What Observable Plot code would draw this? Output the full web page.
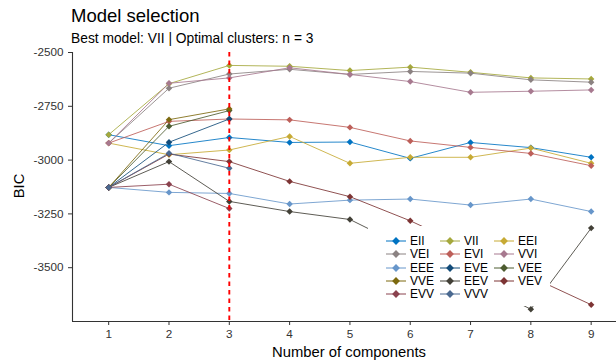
<!DOCTYPE html>
<html><head><meta charset="utf-8">
<script src="https://cdn.jsdelivr.net/npm/d3@7"></script>
<script src="https://cdn.jsdelivr.net/npm/@observablehq/plot@0.6"></script>
<style>
body{margin:0;background:#fff;font-family:"Liberation Sans",Arial,sans-serif;}
#wrap{position:relative;width:616px;height:362px;overflow:hidden;background:#fff;}
.ov{position:absolute;white-space:nowrap;color:#000;}
</style></head><body><div id="wrap"></div>
<script>
// ---- data ----
const components = [1, 2, 3, 4, 5, 6, 7, 8, 9];
const models = ["EII","VII","EEI","VEI","EVI","VVI","EEE","EVE","VEE","VVE","EEV","VEV","EVV","VVV"];
const colors = ["#0073C2","#A5A83C","#C7AA34","#8B8282","#BD5F59","#A7798F","#6796CA","#134C79","#4D5C30","#7C690E","#424037","#7D3434","#8A424E","#4A6990"];
const EII = [-2882, -2933, -2895, -2918, -2916, -2992, -2918, -2942, -2987];
const VII = [-2882, -2645, -2560, -2564, -2584, -2568, -2592, -2618, -2623];
const EEI = [-2921, -2975, -2953, -2890, -3015, -2987, -2987, -2944, -3015];
const VEI = [-2921, -2666, -2600, -2578, -2602, -2588, -2596, -2627, -2638];
const EVI = [-2921, -2820, -2809, -2813, -2848, -2911, -2941, -2969, -3026];
const VVI = [-2921, -2643, -2618, -2571, -2602, -2635, -2685, -2680, -2674];
const EEE = [-3127, -3150, -3155, -3204, -3186, -3181, -3209, -3181, -3239];
const EVE = [-3127, -2917, -2809, null, null, null, null, null, null];
const VEE = [-3127, -2843, -2770, null, null, null, null, null, null];
const VVE = [-3127, -2812, -2762, null, null, null, null, null, null];
const EEV = [-3127, -3007, -3192, -3239, -3276, null, null, -3693, -3316];
const VEV = [-3127, -2972, -3007, -3099, -3170, -3282, null, null, -3672];
const EVV = [-3127, -3112, -3225, null, null, null, null, null, null];
const VVV = [-3127, -2968, -3038, null, null, null, null, null, null];
const seriesValues = [EII, VII, EEI, VEI, EVI, VVI, EEE, EVE, VEE, VVE, EEV, VEV, EVV, VVV];
const yTicks = [-3500, -3250, -3000, -2750, -2500];
const bestG = 3;
const titleText = "Model selection";
const subtitleText = "Best model: VII | Optimal clusters: n = 3";
const xLabel = "Number of components";
const yLabel = "BIC";

// ---- table ----
const rows = [];
models.forEach((m, i) => seriesValues[i].forEach((v, j) => {
  if (v !== null) rows.push({model: m, G: components[j], BIC: v});
}));

const xDomain = [0.4, 9.42];
const yDomain = [-3750, -2500];

const chart = Plot.plot({
  width: 616, height: 362,
  marginLeft: 72, marginRight: 0, marginTop: 52, marginBottom: 41,
  x: {domain: xDomain},
  y: {domain: yDomain},
  color: {domain: models, range: colors},
  style: {fontFamily: '"Liberation Sans", Arial, sans-serif', fontSize: "11.7px", color: "#333", background: "white", overflow: "visible"},
  marks: [
    Plot.line(rows, {x: "G", y: "BIC", z: "model", stroke: "model", strokeWidth: 1, strokeOpacity: 0.85}),
    Plot.dot(rows, {x: "G", y: "BIC", fill: "model", symbol: "diamond2", r: 2.9}),
    Plot.ruleX([bestG], {stroke: "#FF0000", strokeDasharray: "4.5,4", strokeWidth: 1.9}),
    Plot.ruleY([yDomain[0]], {stroke: "#333", strokeWidth: 1.1}),
    Plot.ruleX([xDomain[0]], {stroke: "#333", strokeWidth: 1.1}),
    Plot.axisX({ticks: components, tickFormat: d => String(d), tickSize: 4, tickPadding: 4, label: null, stroke: "#333"}),
    Plot.axisY({ticks: yTicks, tickFormat: d => String(d), tickSize: 4, tickPadding: 5, label: null, stroke: "#333"})
  ]
});

const wrap = document.getElementById("wrap");
wrap.appendChild(chart);

function ov(text, css) {
  const d = document.createElement("div");
  d.className = "ov";
  d.textContent = text;
  d.style.cssText += css;
  wrap.appendChild(d);
  return d;
}
ov(titleText, "left:71px;top:5px;font-size:18.5px;line-height:22px;");
ov(subtitleText, "left:71px;top:31px;font-size:13.8px;line-height:16px;");
ov(xLabel, "left:349px;top:352px;font-size:14.8px;line-height:16px;transform:translate(-50%,-50%);");
ov(yLabel, "left:19px;top:186px;font-size:14.8px;line-height:16px;transform:translate(-50%,-50%) rotate(-90deg);");

// legend
const lg = document.createElement("div");
lg.style.cssText = "position:absolute;left:368px;top:226px;width:182px;height:80px;background:#fff;font-size:12px;color:#000;";
models.forEach((m, i) => {
  const row = Math.floor(i / 3), col = i % 3;
  const it = document.createElement("div");
  it.style.cssText = `position:absolute;left:${18 + col * 54}px;top:${15 + row * 13.33 - 7}px;height:14px;display:flex;align-items:center;white-space:nowrap;`;
  it.innerHTML = `<svg width="20" height="14" style="display:block"><line x1="0" x2="20" y1="7" y2="7" stroke="${colors[i]}" stroke-width="1"/><path d="M10,3.1L13.9,7L10,10.9L6.1,7Z" fill="${colors[i]}"/></svg><span style="margin-left:4px;line-height:14px">${m}</span>`;
  lg.appendChild(it);
});
wrap.appendChild(lg);
</script></body></html>
